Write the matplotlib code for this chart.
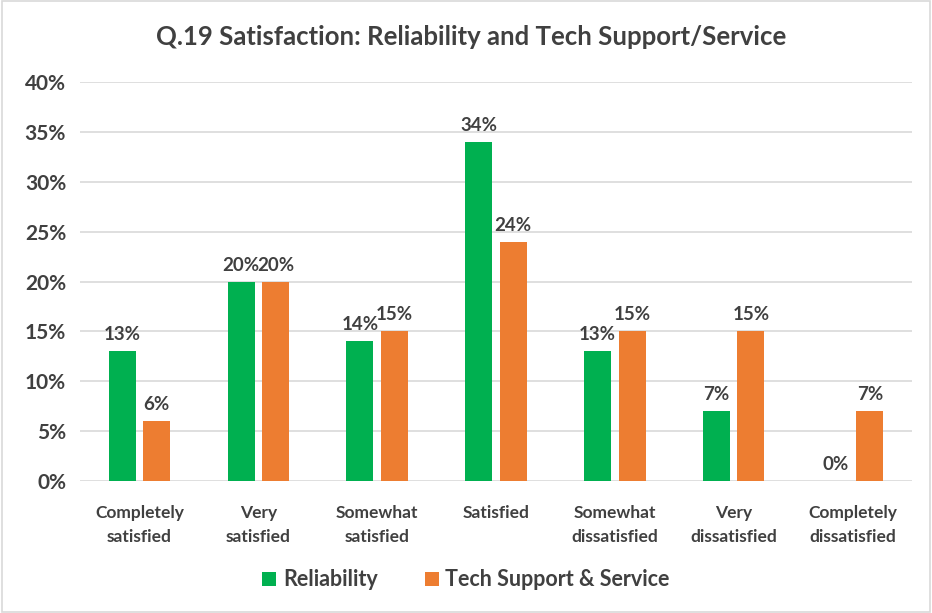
import matplotlib
matplotlib.use('Agg')
import matplotlib.pyplot as plt
import numpy as np
from matplotlib.patches import Rectangle

plt.rcParams['font.family'] = ['Lato', 'DejaVu Sans']

categories = ['Completely\nsatisfied', 'Very\nsatisfied', 'Somewhat\nsatisfied', 'Satisfied',
              'Somewhat\ndissatisfied', 'Very\ndissatisfied', 'Completely\ndissatisfied']
reliability = [13, 20, 14, 34, 13, 7, 0]
tech_support = [6, 20, 15, 24, 15, 15, 7]
yticks = [0, 5, 10, 15, 20, 25, 30, 35, 40]

green = '#00B050'
orange = '#ED7D31'
text_col = '#404040'

fig = plt.figure(figsize=(9.32, 6.13), dpi=100)
ax = fig.add_axes([0.0858, 0.2153, 0.8927, 0.6507])

x = np.arange(len(categories))
w = 0.227
off = 0.145
b1 = ax.bar(x - off, reliability, w, color=green, label='Reliability', zorder=3)
b2 = ax.bar(x + off, tech_support, w, color=orange, label='Tech Support & Service', zorder=3)

for bars, vals in ((b1, reliability), (b2, tech_support)):
    for b, v in zip(bars, vals):
        ax.text(b.get_x() + b.get_width() / 2, v + 0.8, f'{v}%', ha='center', va='bottom',
                fontsize=13.5, fontweight='bold', color=text_col)

ax.set_ylim(0, 40)
ax.set_xlim(-0.5, len(categories) - 0.5)
ax.set_yticks(yticks)
ax.set_yticklabels([f'{t}%' for t in yticks], fontsize=15, fontweight='bold', color=text_col)
ax.set_xticks(x)
ax.set_xticklabels(categories, fontsize=12.5, fontweight='bold', color=text_col, linespacing=1.65)
ax.tick_params(axis='both', length=0)
ax.tick_params(axis='x', pad=17)
ax.tick_params(axis='y', pad=10)
ax.grid(axis='y', color='#D9D9D9', linewidth=1.2, zorder=0)
for s in ax.spines.values():
    s.set_visible(False)

fig.text(0.505, 0.94, 'Q.19 Satisfaction: Reliability and Tech Support/Service', ha='center', va='center',
         fontsize=18.5, fontweight='bold', color=text_col)

ax.legend(loc='center', bbox_to_anchor=(0.5, 0.054), bbox_transform=fig.transFigure, ncol=2,
          frameon=False, handlelength=0.65, handleheight=0.65, handletextpad=0.3, columnspacing=2.2,
          prop={'size': 15.5, 'weight': 'bold'}, labelcolor=text_col)

fig.patches.append(Rectangle((0.002, 0.002), 0.996, 0.996, transform=fig.transFigure,
                             fill=False, edgecolor='#D9D9D9', linewidth=1.2))

fig.savefig('out.png', dpi=100)
